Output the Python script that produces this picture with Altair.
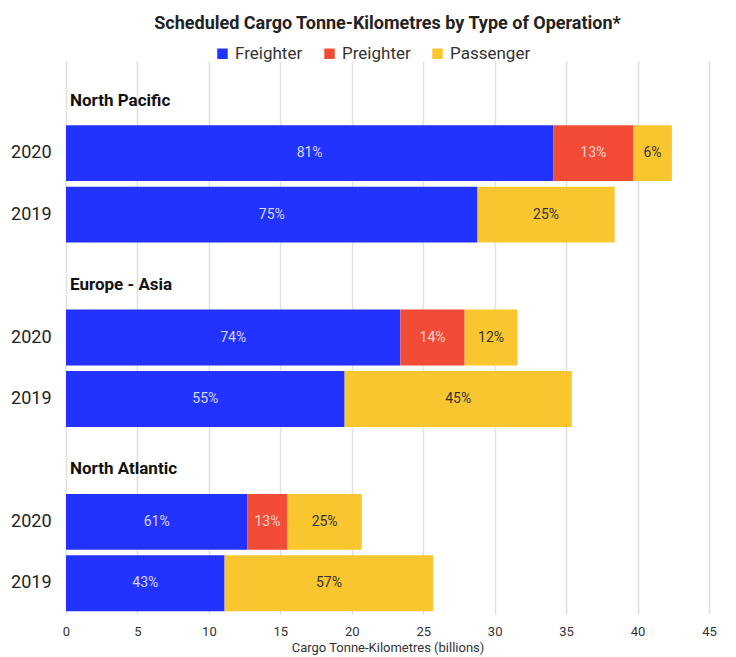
import altair as alt
import pandas as pd

regions = ["North Pacific", "Europe - Asia", "North Atlantic"]
years = ["2020", "2019"]
ops = ["Freighter", "Preighter", "Passenger"]
colors = ["#2233FF", "#F24B36", "#F9C630"]

# values in billions, order: (region, year) pairs
freighter = [34.1, 28.8, 23.4, 19.5, 12.7, 11.1]
preighter = [5.6, 0.0, 4.5, 0.0, 2.8, 0.0]
passenger = [2.7, 9.6, 3.7, 15.9, 5.2, 14.6]
pct_freighter = ["81%", "75%", "74%", "55%", "61%", "43%"]
pct_preighter = ["13%", "", "14%", "", "13%", ""]
pct_passenger = ["6%", "25%", "12%", "45%", "25%", "57%"]

row_order = []
for r in regions:
    row_order.append(r)
    for y in years:
        row_order.append(r + "|" + y)

recs = []
i = 0
for r in regions:
    for y in years:
        start = 0.0
        for op, vals, pcts in zip(ops, [freighter, preighter, passenger],
                                  [pct_freighter, pct_preighter, pct_passenger]):
            v = vals[i]
            if v > 0:
                recs.append({"row": r + "|" + y, "op": op, "start": start,
                             "end": start + v, "mid": start + v / 2, "pct": pcts[i]})
            start += v
        i += 1
bars = pd.DataFrame(recs)
groups = pd.DataFrame({"row": regions, "label": regions})

font = "Roboto"

yscale = alt.Scale(domain=row_order, paddingInner=0.09, paddingOuter=0.045)
xscale = alt.Scale(domain=[0, 45], nice=False)

base_y = alt.Y("row:N", scale=yscale, sort=row_order, title=None,
               axis=alt.Axis(labelExpr="indexof(datum.value,'|')>0 ? split(datum.value,'|')[1] : ''",
                             ticks=False, domain=False, labelFontSize=18, labelColor="#222",
                             labelFont=font, labelPadding=15, grid=False))

bar = alt.Chart(bars).mark_bar(cornerRadius=0).encode(
    x=alt.X("start:Q", scale=xscale,
            axis=alt.Axis(values=list(range(0, 50, 5)), title="Cargo Tonne-Kilometres (billions)",
                          titleFontSize=13, titleFontWeight="normal", titleColor="#333",
                          titleFont=font, titlePadding=3, labelFlush=False,
                          labelFontSize=13, labelColor="#333", labelFont=font, labelPadding=11,
                          ticks=False, domain=False, gridColor="#e0e0e0", gridWidth=1.5)),
    x2="end:Q",
    y=base_y,
    color=alt.Color("op:N", scale=alt.Scale(domain=ops, range=colors),
                    legend=alt.Legend(title=None, orient="none", direction="horizontal",
                                      legendX=148, legendY=-16, symbolType="square",
                                      symbolSize=110, symbolStrokeWidth=0, labelFontSize=17,
                                      labelFont=font, labelColor="#333", columnPadding=18,
                                      labelOffset=4)),
)

txt = alt.Chart(bars).mark_text(fontSize=14, font=font).encode(
    x=alt.X("mid:Q", scale=xscale),
    y=alt.Y("row:N", scale=yscale, sort=row_order),
    text="pct:N",
    color=alt.Color("op:N", scale=alt.Scale(domain=ops, range=["#d8d8ff", "#ffd6cc", "#333333"]),
                    legend=None),
)

glabels = alt.Chart(groups).mark_text(fontSize=17, font=font, fontWeight="bold", align="left",
                                      dx=4, dy=9, color="#111").encode(
    x=alt.value(0),
    y=alt.Y("row:N", scale=yscale, sort=row_order),
    text="label:N",
)

chart = alt.layer(bar, txt, glabels).resolve_scale(color="independent").properties(
    width=643, height=553,
    autosize=alt.AutoSizeParams(type="none"),
    padding={"left": 58, "top": 53, "right": 19, "bottom": 43},
    title=alt.TitleParams("Scheduled Cargo Tonne-Kilometres by Type of Operation*",
                          fontSize=18, font=font, fontWeight="bold", color="#222",
                          anchor="middle", offset=12),
).configure_view(stroke=None)

chart.save("out.html", embed_options={"renderer": "svg", "actions": False})
